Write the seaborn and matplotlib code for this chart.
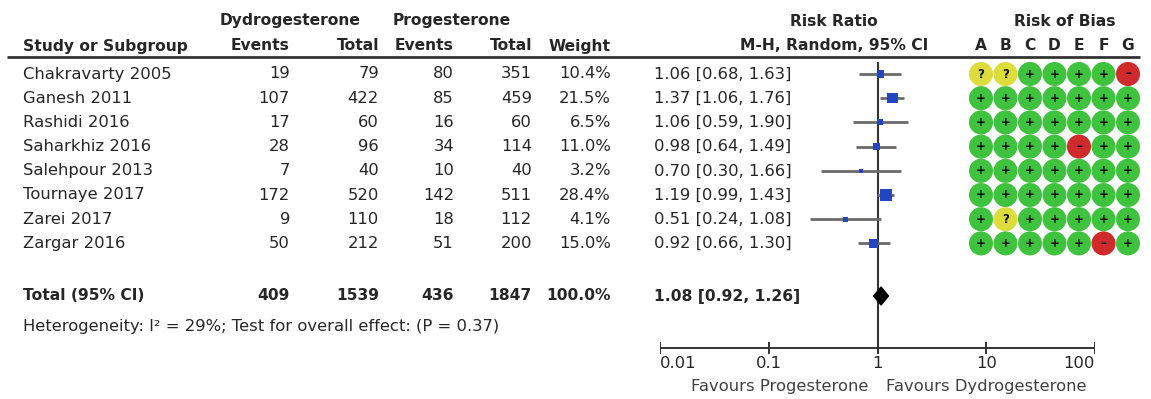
import numpy as np
import pandas as pd
import matplotlib
matplotlib.use("Agg")
import matplotlib.pyplot as plt
import seaborn as sns

# ---- study data -------------------------------------------------------------
studies = ["Chakravarty 2005", "Ganesh 2011", "Rashidi 2016", "Saharkhiz 2016",
           "Salehpour 2013", "Tournaye 2017", "Zarei 2017", "Zargar 2016"]
dyd_events = [19, 107, 17, 28, 7, 172, 9, 50]
dyd_total = [79, 422, 60, 96, 40, 520, 110, 212]
prog_events = [80, 85, 16, 34, 10, 142, 18, 51]
prog_total = [351, 459, 60, 114, 40, 511, 112, 200]
weights = [10.4, 21.5, 6.5, 11.0, 3.2, 28.4, 4.1, 15.0]
risk_ratio = [1.06, 1.37, 1.06, 0.98, 0.70, 1.19, 0.51, 0.92]
ci_low = [0.68, 1.06, 0.59, 0.64, 0.30, 0.99, 0.24, 0.66]
ci_high = [1.63, 1.76, 1.90, 1.49, 1.66, 1.43, 1.08, 1.30]

total_weight = 100.0
pooled_rr = 1.08
pooled_low = 0.92
pooled_high = 1.26
heterogeneity_i2 = 29
overall_p = 0.37

scale_ticks = [0.01, 0.1, 1, 10, 100]
scale_labels = ["0.01", "0.1", "1", "10", "100"]
favours_left = "Favours Progesterone"
favours_right = "Favours Dydrogesterone"

bias_domains = ["A", "B", "C", "D", "E", "F", "G"]
bias_judgements = ["??++++-", "+++++++", "+++++++", "++++-++",
                   "+++++++", "+++++++", "+?+++++", "+++++-+"]

# ---- layout (pixels) ----------------------------------------------------------
W, H = 1151, 399
row_y = [74 + 24.2 * i for i in range(len(studies))]
total_y = 296
het_y = 327
group_y = 21
head_y = 46
rule_y = 57
axis_y = 348

col_study = 23
col_dyd_ev = 290
col_dyd_tot = 379
col_prog_ev = 454
col_prog_tot = 532
col_weight = 611
col_ci = 654
fx0, fx1 = 660, 1095          # pixel span of the log axis (0.01 .. 100)
rob_x0, rob_dx = 981, 24.5    # first risk-of-bias column and spacing

TXT = "#262626"
FS = 11.8
FSB = 11.2
sns.set_theme(style="white")
plt.rcParams["font.family"] = ["DejaVu Sans"]

fig = plt.figure(figsize=(W / 100, H / 100), dpi=100, facecolor="white")

# table text layer
tab = fig.add_axes([0, 0, 1, 1])
tab.set_xlim(0, W)
tab.set_ylim(H, 0)
tab.axis("off")


def put(x, y, s, ha="left", bold=False, color=TXT):
    tab.text(x, y, s, ha=ha, va="center", fontsize=FSB if bold else FS,
             color=color, fontweight="bold" if bold else "normal")


# headers
put(290, group_y, "Dydrogesterone", ha="center", bold=True)
put(452, group_y, "Progesterone", ha="center", bold=True)
put(834, group_y, "Risk Ratio", ha="center", bold=True)
put(1065, group_y, "Risk of Bias", ha="center", bold=True)
put(col_study, head_y, "Study or Subgroup", bold=True)
put(col_dyd_ev, head_y, "Events", ha="right", bold=True)
put(col_dyd_tot, head_y, "Total", ha="right", bold=True)
put(col_prog_ev, head_y, "Events", ha="right", bold=True)
put(col_prog_tot, head_y, "Total", ha="right", bold=True)
put(col_weight, head_y, "Weight", ha="right", bold=True)
put(834, head_y, "M-H, Random, 95% CI", ha="center", bold=True)
for i, d in enumerate(bias_domains):
    put(rob_x0 + rob_dx * i, head_y, d, ha="center", bold=True)
tab.plot([7, 1140], [rule_y, rule_y], color="#333333", lw=2.0,
         solid_capstyle="butt")

# study rows
for i, name in enumerate(studies):
    y = row_y[i]
    put(col_study, y, name)
    put(col_dyd_ev, y, str(dyd_events[i]), ha="right")
    put(col_dyd_tot, y, str(dyd_total[i]), ha="right")
    put(col_prog_ev, y, str(prog_events[i]), ha="right")
    put(col_prog_tot, y, str(prog_total[i]), ha="right")
    put(col_weight, y, f"{weights[i]:.1f}%", ha="right")
    put(col_ci, y, f"{risk_ratio[i]:.2f} [{ci_low[i]:.2f}, {ci_high[i]:.2f}]")

# pooled row
put(col_study, total_y, "Total (95% CI)", bold=True)
put(col_dyd_ev, total_y, str(sum(dyd_events)), ha="right", bold=True)
put(col_dyd_tot, total_y, str(sum(dyd_total)), ha="right", bold=True)
put(col_prog_ev, total_y, str(sum(prog_events)), ha="right", bold=True)
put(col_prog_tot, total_y, str(sum(prog_total)), ha="right", bold=True)
put(col_weight, total_y, f"{total_weight:.1f}%", ha="right", bold=True)
put(col_ci, total_y, f"{pooled_rr:.2f} [{pooled_low:.2f}, {pooled_high:.2f}]",
    bold=True)
put(col_study, het_y,
    f"Heterogeneity: I\u00b2 = {heterogeneity_i2}%; "
    f"Test for overall effect: (P = {overall_p:.2f})")

# ---- forest plot on a log risk-ratio scale ----------------------------------
fp = fig.add_axes([fx0 / W, 0, (fx1 - fx0) / W, 1])
fp.set_xscale("log")
fp.set_xlim(scale_ticks[0], scale_ticks[-1])
fp.set_ylim(H, 0)
fp.axis("off")
fp.patch.set_alpha(0)

fp.vlines(1, 62, axis_y + 6, color="#333333", lw=1.5)
fp.hlines(row_y, ci_low, ci_high, color="#6a6a6a", lw=2.0)

forest = pd.DataFrame({"rr": risk_ratio, "y": row_y, "weight": weights})
k = 2.7
sns.scatterplot(data=forest, x="rr", y="y", size="weight",
                sizes=(min(weights) * k, max(weights) * k),
                size_norm=(min(weights), max(weights)),
                marker="s", color="#2346c0", edgecolor="none",
                legend=False, ax=fp, zorder=3)

dh = 9
fp.fill([pooled_low, pooled_rr, pooled_high, pooled_rr],
        [total_y, total_y - dh, total_y, total_y + dh],
        color="black", zorder=3)

# scale
fp.hlines(axis_y, scale_ticks[0], scale_ticks[-1], color="#333333", lw=1.4)
fp.vlines(scale_ticks, axis_y - 6, axis_y + 6, color="#333333", lw=1.4)
for t, lab in zip(scale_ticks, scale_labels):
    ha = "left" if t == scale_ticks[0] else ("right" if t == scale_ticks[-1] else "center")
    fp.text(t, axis_y + 16, lab, ha=ha, va="center", fontsize=FS, color=TXT)
fp.text(0.83, axis_y + 38, favours_left, ha="right", va="center",
        fontsize=FS, color="#404040")
fp.text(1.2, axis_y + 38, favours_right, ha="left", va="center",
        fontsize=FS, color="#404040")

# ---- risk of bias grid --------------------------------------------------------
rob = fig.add_axes([0, 0, 1, 1])
rob.set_xlim(-rob_x0 / rob_dx, (W - rob_x0) / rob_dx)
rob.set_ylim(H, 0)
rob.axis("off")
rob.patch.set_alpha(0)

level = {"+": "low", "?": "unclear", "-": "high"}
records = []
for i, judg in enumerate(bias_judgements):
    for j, c in enumerate(judg):
        records.append({"domain": j, "y": row_y[i], "risk": level[c], "sym": c})
grid = pd.DataFrame(records)
palette = {"low": "#3fc23d", "unclear": "#dcdc3c", "high": "#cf2a2c"}
sns.scatterplot(data=grid, x="domain", y="y", hue="risk", palette=palette,
                s=300, marker="o", edgecolor="none", legend=False, ax=rob)
glyph = {"+": "+", "?": "?", "-": "\u2013"}
for _, r in grid.iterrows():
    rob.text(r["domain"], r["y"], glyph[r["sym"]], ha="center", va="center",
             fontsize=8.5, fontweight="bold", color="#111111")

fig.savefig("out.png", dpi=100, facecolor="white")
